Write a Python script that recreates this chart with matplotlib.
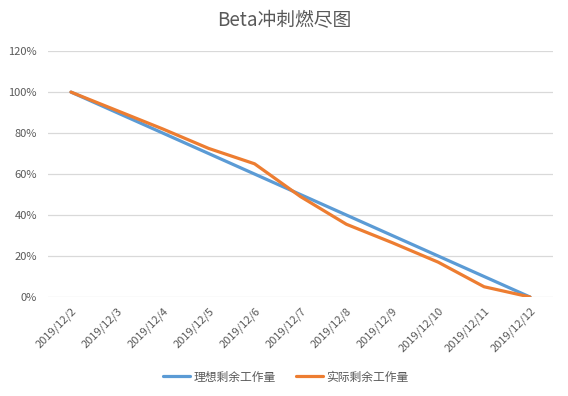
import matplotlib.pyplot as plt
from matplotlib.ticker import PercentFormatter

plt.rcParams['font.family'] = ['Noto Sans CJK SC', 'DejaVu Sans']

dates = ["2019/12/2", "2019/12/3", "2019/12/4", "2019/12/5", "2019/12/6", "2019/12/7",
         "2019/12/8", "2019/12/9", "2019/12/10", "2019/12/11", "2019/12/12"]
ideal = [100, 90, 80, 70, 60, 50, 40, 30, 20, 10, 0]
actual = [100, 91, 82, 72.5, 65, 49, 35.5, 26.5, 17, 5, 0]

text_color = "#595959"

fig = plt.figure(figsize=(5.68, 3.96), dpi=100)
ax = fig.add_axes([0.0845, 0.25, 0.889, 0.621])

x = range(len(dates))
ax.plot(x, ideal, color="#5B9BD5", lw=2.3, label="理想剩余工作量", solid_capstyle="round")
ax.plot(x, actual, color="#ED7D31", lw=2.3, label="实际剩余工作量", solid_capstyle="round")

ax.set_xlim(-0.5, len(dates) - 0.5)
ax.set_ylim(0, 120)
ax.set_yticks(range(0, 121, 20))
ax.yaxis.set_major_formatter(PercentFormatter(decimals=0))
ax.set_xticks(list(x))
ax.set_xticklabels(dates, rotation=45, ha="right", rotation_mode="anchor")
ax.tick_params(length=0, labelsize=8, colors=text_color, pad=6)
ax.tick_params(axis="y", pad=8)

ax.grid(axis="y", color="#D9D9D9", lw=0.9)
ax.set_axisbelow(True)
for s in ax.spines.values():
    s.set_visible(False)

fig.suptitle("Beta冲刺燃尽图", y=0.975, fontsize=13.5, color=text_color)
fig.legend(loc="center", bbox_to_anchor=(0.503, 0.048), ncol=2, frameon=False,
           fontsize=8.5, labelcolor=text_color, handlelength=2.3, columnspacing=1.7,
           handletextpad=0.3)

fig.savefig("out.png", dpi=100)
